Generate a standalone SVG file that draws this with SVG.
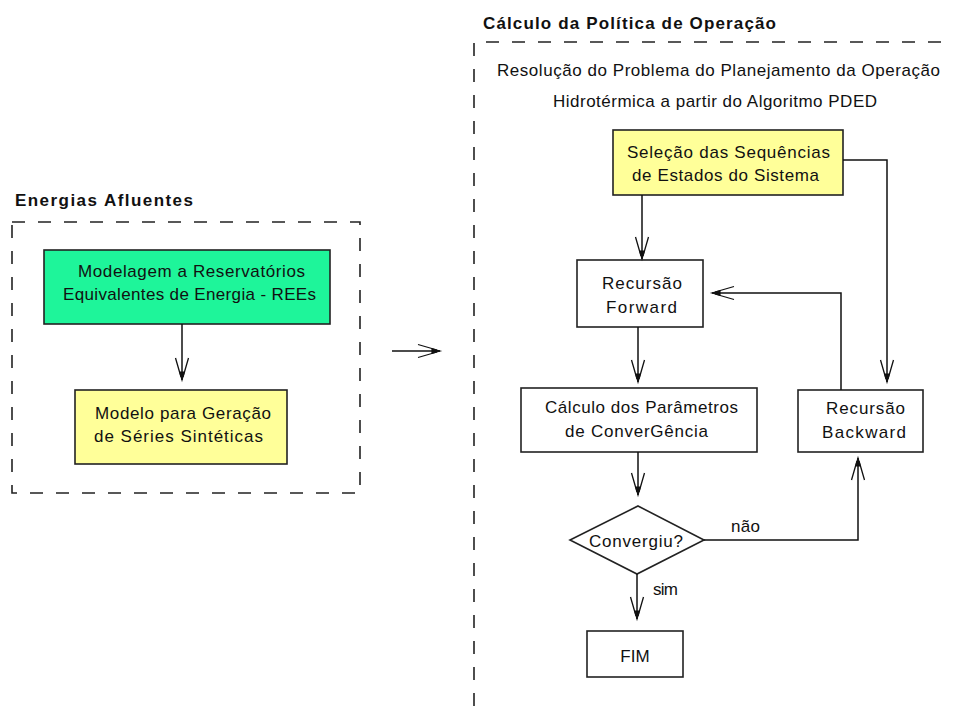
<svg xmlns="http://www.w3.org/2000/svg" width="959" height="706" viewBox="0 0 959 706">
  <style>
    .bg { fill: #ffffff; }
    .frame { fill: none; stroke: #222; stroke-width: 1.6; stroke-dasharray: 13 13; }
    .box { stroke: #222; stroke-width: 1.6; }
    .plain { fill: #ffffff; }
    .green { fill: #1ef59a; }
    .yellow { fill: #ffff99; }
    .title { font-family: "Liberation Sans", Arial, sans-serif; font-weight: bold; font-size: 17px; fill: #111; }
    .txt { font-family: "Liberation Sans", Arial, sans-serif; font-size: 17px; fill: #111; }
    .conn { fill: none; stroke: #111; stroke-width: 1.5; marker-end: url(#arrow); }
  </style>
  <defs>
    <marker id="arrow" viewBox="-24 -8 26 16" refX="0" refY="0" markerWidth="26" markerHeight="16" markerUnits="userSpaceOnUse" orient="auto" overflow="visible">
      <path d="M-22,-6.5 L-3,-1 M-22,6.5 L-3,1" fill="none" stroke="#111" stroke-width="1.3"/>
      <path d="M0,0 L-8,-2.2 L-8,2.2 Z" fill="#111" stroke="#111" stroke-width="1.2"/>
    </marker>
  </defs>

  <rect class="bg" x="0" y="0" width="959" height="706"/>

  <!-- Energias Afluentes group -->
  <g id="energias-afluentes">
    <text class="title" x="15" y="206" textLength="178" lengthAdjust="spacing">Energias Afluentes</text>
    <rect class="frame" x="12" y="222" width="348" height="271"/>
  </g>

  <g id="modelagem-rees">
    <rect class="box green" x="44" y="250" width="286" height="74"/>
    <text class="txt" x="78" y="277" textLength="227" lengthAdjust="spacing">Modelagem a Reservatórios</text>
    <text class="txt" x="63" y="300" textLength="253" lengthAdjust="spacing">Equivalentes de Energia - REEs</text>
  </g>

  <g id="geracao-series">
    <rect class="box yellow" x="75" y="390" width="212" height="74"/>
    <text class="txt" x="95" y="419" textLength="176" lengthAdjust="spacing">Modelo para Geração</text>
    <text class="txt" x="94" y="442" textLength="169" lengthAdjust="spacing">de Séries Sintéticas</text>
  </g>

  <!-- Cálculo da Política de Operação group -->
  <g id="calculo-politica">
    <text class="title" x="483" y="29" textLength="293" lengthAdjust="spacing">Cálculo da Política de Operação</text>
    <path class="frame" d="M474,706 V42 H952"/>
    <text class="txt" x="497" y="76" textLength="443" lengthAdjust="spacing">Resolução do Problema do Planejamento da Operação</text>
    <text class="txt" x="553" y="107" textLength="324" lengthAdjust="spacing">Hidrotérmica a partir do Algoritmo PDED</text>
  </g>

  <g id="selecao-sequencias">
    <rect class="box yellow" x="613" y="130" width="230" height="65"/>
    <text class="txt" x="627" y="158" textLength="203" lengthAdjust="spacing">Seleção das Sequências</text>
    <text class="txt" x="632" y="181" textLength="187" lengthAdjust="spacing">de Estados do Sistema</text>
  </g>

  <g id="recursao-forward">
    <rect class="box plain" x="577" y="260" width="126" height="67"/>
    <text class="txt" x="602" y="289" textLength="80" lengthAdjust="spacing">Recursão</text>
    <text class="txt" x="606" y="313" textLength="71" lengthAdjust="spacing">Forward</text>
  </g>

  <g id="calculo-parametros">
    <rect class="box plain" x="521" y="388" width="236" height="64"/>
    <text class="txt" x="545" y="413" textLength="193" lengthAdjust="spacing">Cálculo dos Parâmetros</text>
    <text class="txt" x="565" y="437" textLength="143" lengthAdjust="spacing">de ConverGência</text>
  </g>

  <g id="recursao-backward">
    <rect class="box plain" x="798" y="390" width="125" height="62"/>
    <text class="txt" x="826" y="414" textLength="79" lengthAdjust="spacing">Recursão</text>
    <text class="txt" x="822" y="438" textLength="84" lengthAdjust="spacing">Backward</text>
  </g>

  <g id="convergiu">
    <path class="box plain" d="M638,506 L704,540 L637,574 L570,540 Z" stroke-width="1.4"/>
    <text class="txt" x="589" y="547" textLength="94" lengthAdjust="spacing">Convergiu?</text>
  </g>

  <g id="fim">
    <rect class="box plain" x="587" y="631" width="96" height="46"/>
    <text class="txt" x="635" y="662" text-anchor="middle">FIM</text>
  </g>

  <!-- connectors -->
  <g id="connectors">
    <path class="conn" d="M182,324 V380"/>
    <path class="conn" d="M392,351 H440"/>
    <path class="conn" d="M642,195 V259"/>
    <path class="conn" d="M843,160 H887 V382"/>
    <path class="conn" d="M841,390 V293 H712"/>
    <path class="conn" d="M638,327 V382"/>
    <path class="conn" d="M638,452 V495"/>
    <path class="conn" d="M704,540 H858 V458"/>
    <path class="conn" d="M637,574 V619"/>
    <text class="txt" x="731" y="532" textLength="29" lengthAdjust="spacing">não</text>
    <text class="txt" x="653" y="595" textLength="25" lengthAdjust="spacing">sim</text>
  </g>
</svg>
